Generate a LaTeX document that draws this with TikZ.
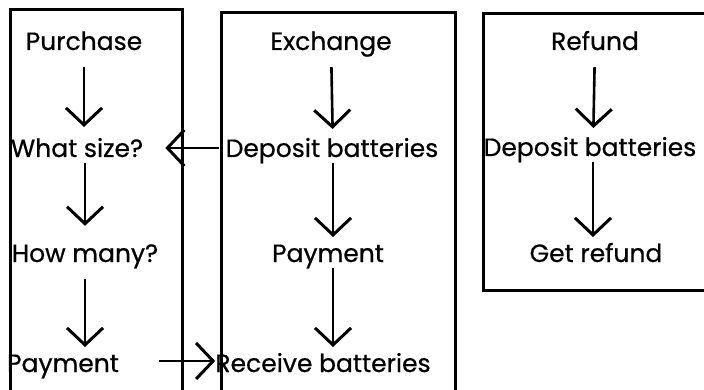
\documentclass[tikz,border=0pt]{standalone}
\usepackage{fontspec}
\setmainfont{Poppins}[FakeBold=0.6]
\usetikzlibrary{arrows.meta}

\begin{document}
\begin{tikzpicture}[x=1pt, y=-1pt,
	lane/.style={line width=3pt},
	flow/.style={line width=2.6pt, -{Straight Barb[length=17pt,width=36pt,line width=3pt]}, shorten <=12pt, shorten >=19pt}]
	\useasboundingbox (0,0) rectangle (704,390);
	\clip (0,0) rectangle (704,390);
	
	% the three lanes, cut off at the page edge
	\draw[lane] (10,400) -- (10,10) -- (182,10) -- (182,400);
	\draw[lane] (221,400) -- (221,13) -- (455,13) -- (455,400);
	\draw[lane] (710,290) -- (483,290) -- (483,14) -- (710,14);
	
	\begin{scope}[
		item/.style={font=\fontsize{25}{29}\selectfont, inner sep=0pt, text height=17pt, text depth=5pt}]
		\node[item] (P0) at (84, 44) {Purchase};
		\node[item] (P1) at (77, 151) {What size?};
		\node[item] (P2) at (85, 256) {How many?};
		\node[item] (P3) at (63, 366) {Payment};
		
		\node[item] (E0) at (331, 44) {Exchange};
		\node[item] (E1) at (332, 151) {Deposit batteries};
		\node[item] (E2) at (328, 256) {Payment};
		\node[item] (E3) at (323, 366) {Receive batteries};
		
		\node[item] (R0) at (595, 44) {Refund};
		\node[item] (R1) at (590, 150) {Deposit batteries};
		\node[item] (R2) at (596, 256) {Get refund};
	\end{scope}
	
	\draw[flow, shorten >=24pt] (P0) -- (P0 |- P1);
	\draw[flow] (P2 |- P1) -- (P2);
	\draw[flow] (P2) -- (P2 |- P3);
	
	\draw[flow, shorten >=22pt] ([xshift=2pt]E0) -- ([xshift=2pt]E0 |- E1);
	\draw[flow] ([xshift=2pt]E0 |- E1) -- ([xshift=2pt]E0 |- E2);
	\draw[flow] ([xshift=2pt]E0 |- E2) -- ([xshift=2pt]E0 |- E3);
	
	\draw[flow, shorten >=22pt] ([xshift=-2pt]R0) -- ([xshift=-2pt]R0 |- R1);
	\draw[flow] ([xshift=-2pt]R0 |- R1) -- ([xshift=-2pt]R0 |- R2);
	
	% links between the lanes
	\draw[flow, line width=2.2pt, shorten <=7pt, shorten >=22pt] ([yshift=3pt]E1.west) -- ([yshift=3pt]P1.east);
	\draw[flow, line width=2.2pt, shorten <=40pt, shorten >=0pt] ([yshift=5pt]P3.east) -- ([yshift=5pt]E3.west);
\end{tikzpicture}
\end{document}
